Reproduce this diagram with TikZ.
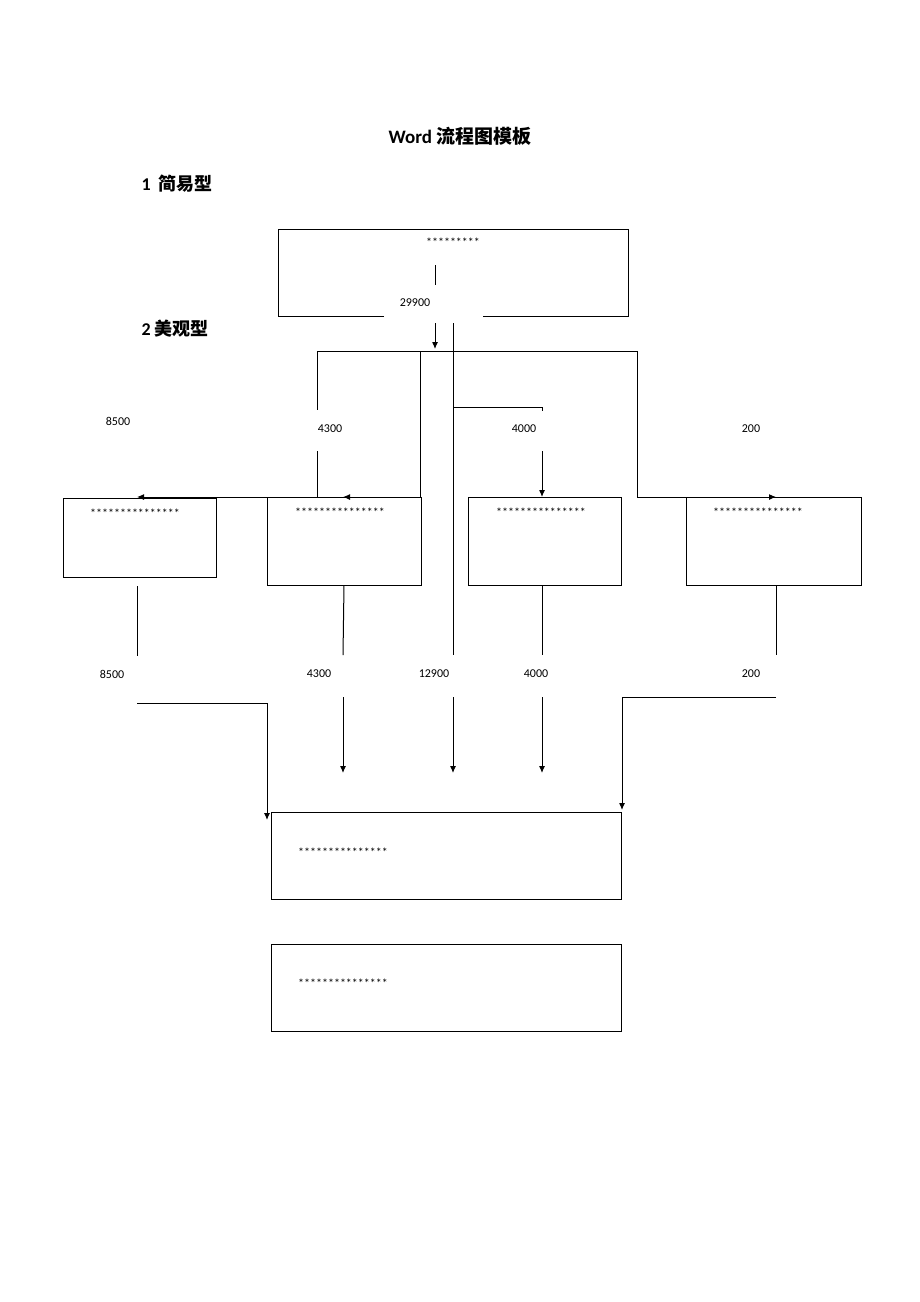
\documentclass[tikz,border=0pt]{standalone}
\usepackage{fontspec}
\setmainfont{Carlito}
\newfontfamily\cjk{Noto Sans CJK SC}
\usetikzlibrary{arrows.meta}
\begin{document}
\begin{tikzpicture}[x=1pt,y=-1pt,
  ln/.style={line width=1pt},
  ar/.style={ln,-{Latex[length=7pt,width=6pt]}},
  box/.style={draw,line width=1pt},
  lab/.style={font=\fontsize{12}{12}\selectfont,inner sep=1pt},
  st/.style={font=\fontsize{12}{12}\selectfont,inner sep=0pt,anchor=north}]
\useasboundingbox (0,0) rectangle (920,1302);
\node[font=\bfseries\fontsize{19}{19}\selectfont] (title) at (460,136) {Word \cjk 流程图模板};
\node[font=\bfseries\fontsize{18}{18}\selectfont,anchor=west] (h1) at (138,184) {1\ \ \cjk 简易型};
\node[font=\bfseries\fontsize{18}{18}\selectfont,anchor=west] (h2) at (138,329) {2 \cjk 美观型};
% top box with gap
\coordinate (t1) at (384,316); \coordinate (t2) at (278,316); \coordinate (t3) at (278,229);
\coordinate (t4) at (628,229); \coordinate (t5) at (628,316); \coordinate (t6) at (483,316);
\draw[ln] (t1) -- (t2) -- (t3) -- (t4) -- (t5) -- (t6);
\node[st] (ts) at (453,238) {*********};
\coordinate (s1) at (435,265); \coordinate (s2) at (435,285);
\draw[ln] (s1) -- (s2);
\node[lab] (l29900) at (415,303) {29900};
\coordinate (a1) at (435,323); \coordinate (a2) at (435,349);
\draw[ar] (a1) -- (a2);
% boxes
\node[box,minimum width=153pt,minimum height=79pt] (b1) at (139.5,537.5) {};
\node[box,minimum width=154pt,minimum height=88pt] (b2) at (344,541) {};
\node[box,minimum width=153pt,minimum height=88pt] (b3) at (544.5,541) {};
\node[box,minimum width=175pt,minimum height=88pt] (b4) at (773.5,541) {};
\node[box,minimum width=350pt,minimum height=87pt] (b5) at (446,855.5) {};
\node[box,minimum width=350pt,minimum height=87pt] (b6) at (446,987.5) {};
\foreach \n/\x/\y in {s1/135/509,s2/340/508,s3/541/508,s4/758/508,s5/343/848,s6/343/979}
  \node[st] (\n) at (\x,\y) {***************};
% distribution lines
\coordinate (h1l) at (317,351); \coordinate (h1r) at (637,351);
\draw[ln] (h1l) -- (h1r);
\node[lab] (n8500a) at (118,421) {8500};
\node[lab] (n4300a) at (330,429) {4300};
\node[lab] (n4000a) at (524,429) {4000};
\node[lab] (n200a) at (751,429) {200};
\coordinate (p1) at (317,410); \coordinate (p2) at (317,451); \coordinate (p3) at (317,497); \coordinate (p4) at (137,497);
\draw[ln] (h1l) -- (p1);
\draw[ar] (p2) -- (p3) -- (p4);
\coordinate (q1) at (420,351); \coordinate (q2) at (420,497); \coordinate (q3) at (343,497);
\draw[ar] (q1) -- (q2) -- (q3);
\coordinate (m1) at (453,323); \coordinate (m2) at (453,655); \coordinate (m3) at (453,697); \coordinate (m4) at (453,773);
\draw[ln] (m1) -- (m2); \draw[ar] (m3) -- (m4);
\coordinate (r1) at (453,407); \coordinate (r2) at (542,407); \coordinate (r3) at (542,411);
\coordinate (r4) at (542,451); \coordinate (r5) at (542,497);
\draw[ln] (r1) -- (r2) -- (r3); \draw[ar] (r4) -- (r5);
\coordinate (u1) at (637,497); \coordinate (u2) at (776,497);
\draw[ar] (h1r) -- (u1) -- (u2);
% lower
\node[lab] (n8500b) at (112,674) {8500};
\node[lab] (n4300b) at (319,674) {4300};
\node[lab] (n12900) at (434,674) {12900};
\node[lab] (n4000b) at (536,674) {4000};
\node[lab] (n200b) at (751,674) {200};
\coordinate (c1) at (137,586); \coordinate (c2) at (137,656); \coordinate (c3) at (137,703);
\coordinate (c4) at (267,703); \coordinate (c5) at (267,820);
\draw[ln] (c1) -- (c2); \draw[ar] (c3) -- (c4) -- (c5);
\coordinate (d1) at (343,655); \coordinate (d2) at (343,697); \coordinate (d3) at (343,773);
\draw[ln] (b2.south) -- (d1); \draw[ar] (d2) -- (d3);
\coordinate (e1) at (542,655); \coordinate (e2) at (542,697); \coordinate (e3) at (542,773);
\draw[ln] (b3.south -| e1) -- (e1); \draw[ar] (e2) -- (e3);
\coordinate (f1) at (776,655); \coordinate (f2) at (776,697); \coordinate (f3) at (622,697); \coordinate (f4) at (622,810);
\draw[ln] (b4.south -| f1) -- (f1); \draw[ar] (f2) -- (f3) -- (f4);
\end{tikzpicture}
\end{document}
